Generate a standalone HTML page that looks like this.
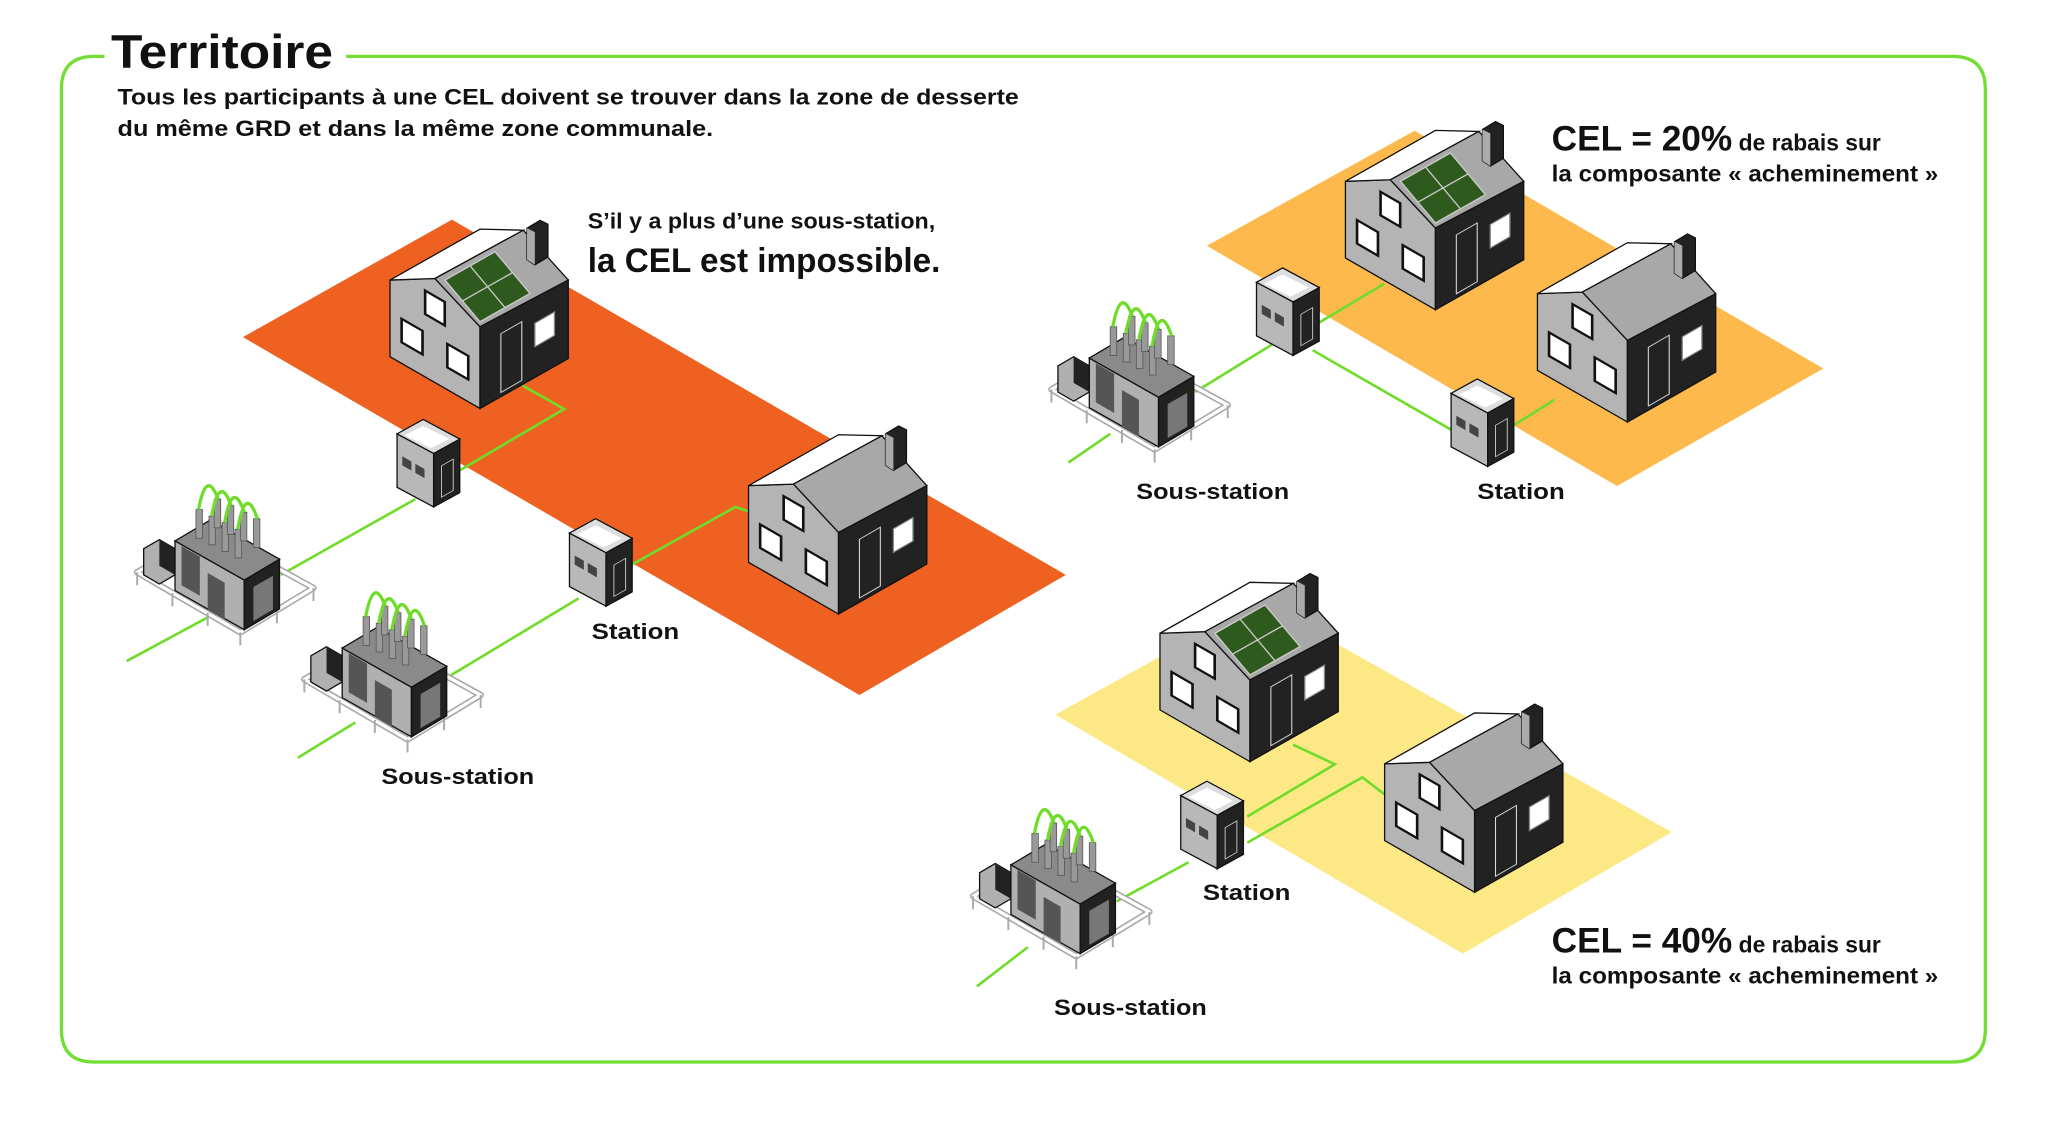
<!DOCTYPE html>
<html><head><meta charset="utf-8"><style>
html,body{margin:0;padding:0;background:#fff;}
svg{display:block;}
text{font-family:"Liberation Sans",sans-serif;font-weight:bold;fill:#111;}
</style></head><body>
<svg width="2048" height="1121" viewBox="0 0 1568 858" xmlns="http://www.w3.org/2000/svg">
<defs>
<g id="houseBase">
  <polygon points="-68.9,-98.3 -34.5,-99.5 0,-62.5 0,0 -68.9,-39.6" fill="#b4b4b4" stroke="#111" stroke-width="1"/>
  <polygon points="-68.9,-98.3 0,-137.3 33.2,-136.5 -34.5,-99.5" fill="#fff" stroke="#111" stroke-width="1"/>
  <polygon points="-34.5,-99.5 33.2,-136.5 67.6,-98.3 0,-62.5" fill="#a8a8a8" stroke="#111" stroke-width="1"/>
  <polygon points="0,-62.5 67.6,-98.3 67.6,-38.3 0,0" fill="#222" stroke="#111" stroke-width="1"/>
  <g transform="skewY(30)">
    <rect x="-42" y="-66" width="15" height="18" fill="#fff" stroke="#111" stroke-width="2"/>
    <rect x="-60" y="-34" width="16" height="18" fill="#fff" stroke="#111" stroke-width="2"/>
    <rect x="-25" y="-35" width="16" height="18" fill="#fff" stroke="#111" stroke-width="2"/>
  </g>
  <g transform="skewY(-30)">
    <rect x="16" y="-48" width="16" height="45" fill="#222" stroke="#ddd" stroke-width="0.8"/>
    <rect x="42" y="-41" width="15" height="18" fill="#fff" stroke="#888" stroke-width="1"/>
  </g>
  <polygon points="36,-138 46,-144 52,-141 52,-116 42,-110 36,-114" fill="#222" stroke="#111"/>
  <polygon points="36,-138 42,-135 42,-110 36,-114" fill="#aaa"/>
</g>
<g id="solar">
  <polygon points="-26.8,-98.3 11.5,-120 38.3,-88.1 0,-66.4" fill="#2f5a1e" stroke="#ccc" stroke-width="1"/>
  <line x1="-7.6" y1="-109.2" x2="19.2" y2="-77.2" stroke="#ccc" stroke-width="1"/>
  <line x1="-13.4" y1="-82.3" x2="24.9" y2="-104" stroke="#ccc" stroke-width="1"/>
</g>
<g id="station">
  <polygon points="0,0 -28,-15 -28,-56 0,-41" fill="#b8b8b8" stroke="#111" stroke-width="1"/>
  <polygon points="0,0 20,-11 20,-52 0,-41" fill="#222" stroke="#111" stroke-width="1"/>
  <polygon points="0,-41 -28,-56 -8,-67 20,-52" fill="#ddd" stroke="#111" stroke-width="1"/>
  <polygon points="-2,-45 -22,-55 -8,-62 12,-52" fill="#fff"/>
  <g transform="skewY(30)">
    <rect x="-24" y="-25" width="7" height="7" fill="#444"/>
    <rect x="-14" y="-25" width="7" height="7" fill="#444"/>
  </g>
  <g transform="skewY(-30)"><rect x="6" y="-28" width="9" height="24" fill="none" stroke="#ccc" stroke-width="0.7"/></g>
</g>
<g id="sous">
  <polygon points="-67,-2 -12,-34 68,10 12,44" fill="none" stroke="#aaa" stroke-width="5" stroke-linejoin="round"/>
  <polygon points="-67,-2 -12,-34 68,10 12,44" fill="none" stroke="#fff" stroke-width="2.5" stroke-linejoin="round"/>
  <g stroke="#aaa" stroke-width="1.5">
    <line x1="-67" y1="-2" x2="-67" y2="8"/><line x1="-40" y1="14" x2="-40" y2="24"/><line x1="-13" y1="29" x2="-13" y2="39"/><line x1="12" y1="44" x2="12" y2="54"/><line x1="40" y1="27" x2="40" y2="37"/><line x1="68" y1="10" x2="68" y2="20"/>
  </g>
  <polygon points="-62,-20 -50,-27 -38,-20 -38,0 -50,7 -62,0" fill="#b0b0b0" stroke="#111" stroke-width="1"/>
  <polygon points="-50,-27 -38,-20 -38,0 -50,-7" fill="#222"/>
  <polygon points="-38,-26 15,4 15,42 -38,12" fill="#b0b0b0" stroke="#111" stroke-width="1"/>
  <polygon points="15,4 42,-12 42,26 15,42" fill="#222" stroke="#111" stroke-width="1"/>
  <polygon points="-38,-26 -11,-42 42,-12 15,4" fill="#8a8a8a" stroke="#111" stroke-width="1"/>
  <g transform="skewY(30)" fill="#555">
    <rect x="-33" y="-3" width="14" height="30"/><rect x="-13" y="6" width="13" height="28"/>
  </g>
  <g transform="skewY(-30)" fill="#777"><rect x="22" y="22" width="15" height="26"/></g>
  <g fill="#999" stroke="#555" stroke-width="0.6">
    <rect x="-22" y="-50" width="5" height="22"/><rect x="-12" y="-45" width="5" height="22"/><rect x="-2" y="-40" width="5" height="22"/><rect x="8" y="-35" width="5" height="22"/>
    <rect x="-8" y="-58" width="5" height="22"/><rect x="2" y="-53" width="5" height="22"/><rect x="12" y="-48" width="5" height="22"/><rect x="22" y="-43" width="5" height="22"/>
  </g>
  <g fill="none" stroke="#6fdc2a" stroke-width="2.5">
    <path d="M-20,-50 Q-14,-82 -5,-58"/><path d="M-10,-45 Q-4,-78 5,-53"/><path d="M0,-40 Q6,-74 15,-48"/><path d="M10,-35 Q16,-70 25,-43"/>
  </g>
</g>
</defs>

<!-- border -->
<path d="M80,43 L72,43 Q47,43 47,68 L47,788 Q47,813 72,813 L1495,813 Q1520,813 1520,788 L1520,68 Q1520,43 1495,43 L265,43" fill="none" stroke="#72dd32" stroke-width="2.5"/>
<text x="85" y="52" font-size="36" textLength="170" lengthAdjust="spacingAndGlyphs">Territoire</text>
<text x="90" y="80" font-size="17" textLength="690" lengthAdjust="spacingAndGlyphs">Tous les participants à une CEL doivent se trouver dans la zone de desserte</text>
<text x="90" y="104" font-size="17" textLength="456" lengthAdjust="spacingAndGlyphs">du même GRD et dans la même zone communale.</text>

<!-- zones -->
<polygon points="186,258 346,168 816,440 658,532" fill="#ee6120"/>
<polygon points="924,188 1083,100 1396,282 1238,372" fill="#fdb94b"/>
<polygon points="808,547 965,460 1280,637 1120,730" fill="#fde886"/>

<!-- lines -->
<g fill="none" stroke="#6fdc2a" stroke-width="2">
<polyline points="400,295 432,313 352,360"/>
<polyline points="318,382 215,440"/>
<polyline points="160,472 97,506"/>
<polyline points="575,392 563,388 484,432"/>
<polyline points="443,458 340,520"/>
<polyline points="272,553 228,580"/>
<polyline points="1060,217 1008,248"/>
<polyline points="975,263 915,300"/>
<polyline points="850,332 818,354"/>
<polyline points="1005,268 1113,330"/>
<polyline points="1155,328 1190,306"/>
<polyline points="990,570 1022,585 955,625"/>
<polyline points="1060,608 1043,595 955,645"/>
<polyline points="910,660 855,690"/>
<polyline points="787,725 748,755"/>
</g>

<!-- sous-stations -->
<use href="#sous" transform="translate(172,440)"/>
<use href="#sous" transform="translate(300,522)"/>
<use href="#sous" transform="translate(872,300)"/>
<use href="#sous" transform="translate(812,688)"/>

<!-- stations -->
<use href="#station" transform="translate(332,388)"/>
<use href="#station" transform="translate(464,464)"/>
<use href="#station" transform="translate(990,272)"/>
<use href="#station" transform="translate(1139,357)"/>
<use href="#station" transform="translate(932,665)"/>

<!-- houses -->
<use href="#houseBase" transform="translate(367.5,312.6)"/><use href="#solar" transform="translate(367.5,312.6)"/>
<use href="#houseBase" transform="translate(642,470)"/>
<use href="#houseBase" transform="translate(1099,237)"/><use href="#solar" transform="translate(1099,237)"/>
<use href="#houseBase" transform="translate(1246,323)"/>
<use href="#houseBase" transform="translate(957,583)"/><use href="#solar" transform="translate(957,583)"/>
<use href="#houseBase" transform="translate(1129,683)"/>

<!-- labels -->
<text x="450" y="175" font-size="17" textLength="266" lengthAdjust="spacingAndGlyphs">S’il y a plus d’une sous-station,</text>
<text x="450" y="208" font-size="26" textLength="270" lengthAdjust="spacingAndGlyphs">la CEL est impossible.</text>
<text x="453" y="489" font-size="17" textLength="67" lengthAdjust="spacingAndGlyphs">Station</text>
<text x="292" y="600" font-size="17" textLength="117" lengthAdjust="spacingAndGlyphs">Sous-station</text>
<text x="870" y="382" font-size="17" textLength="117" lengthAdjust="spacingAndGlyphs">Sous-station</text>
<text x="1131" y="382" font-size="17" textLength="67" lengthAdjust="spacingAndGlyphs">Station</text>
<text x="921" y="689" font-size="17" textLength="67" lengthAdjust="spacingAndGlyphs">Station</text>
<text x="807" y="777" font-size="17" textLength="117" lengthAdjust="spacingAndGlyphs">Sous-station</text>
<text x="1188" y="115" font-size="27">CEL = 20%<tspan font-size="17.5"> de rabais sur</tspan></text>
<text x="1188" y="139" font-size="17.5" textLength="296" lengthAdjust="spacingAndGlyphs">la composante « acheminement »</text>
<text x="1188" y="729" font-size="27">CEL = 40%<tspan font-size="17.5"> de rabais sur</tspan></text>
<text x="1188" y="753" font-size="17.5" textLength="296" lengthAdjust="spacingAndGlyphs">la composante « acheminement »</text>
</svg>
</body></html>
